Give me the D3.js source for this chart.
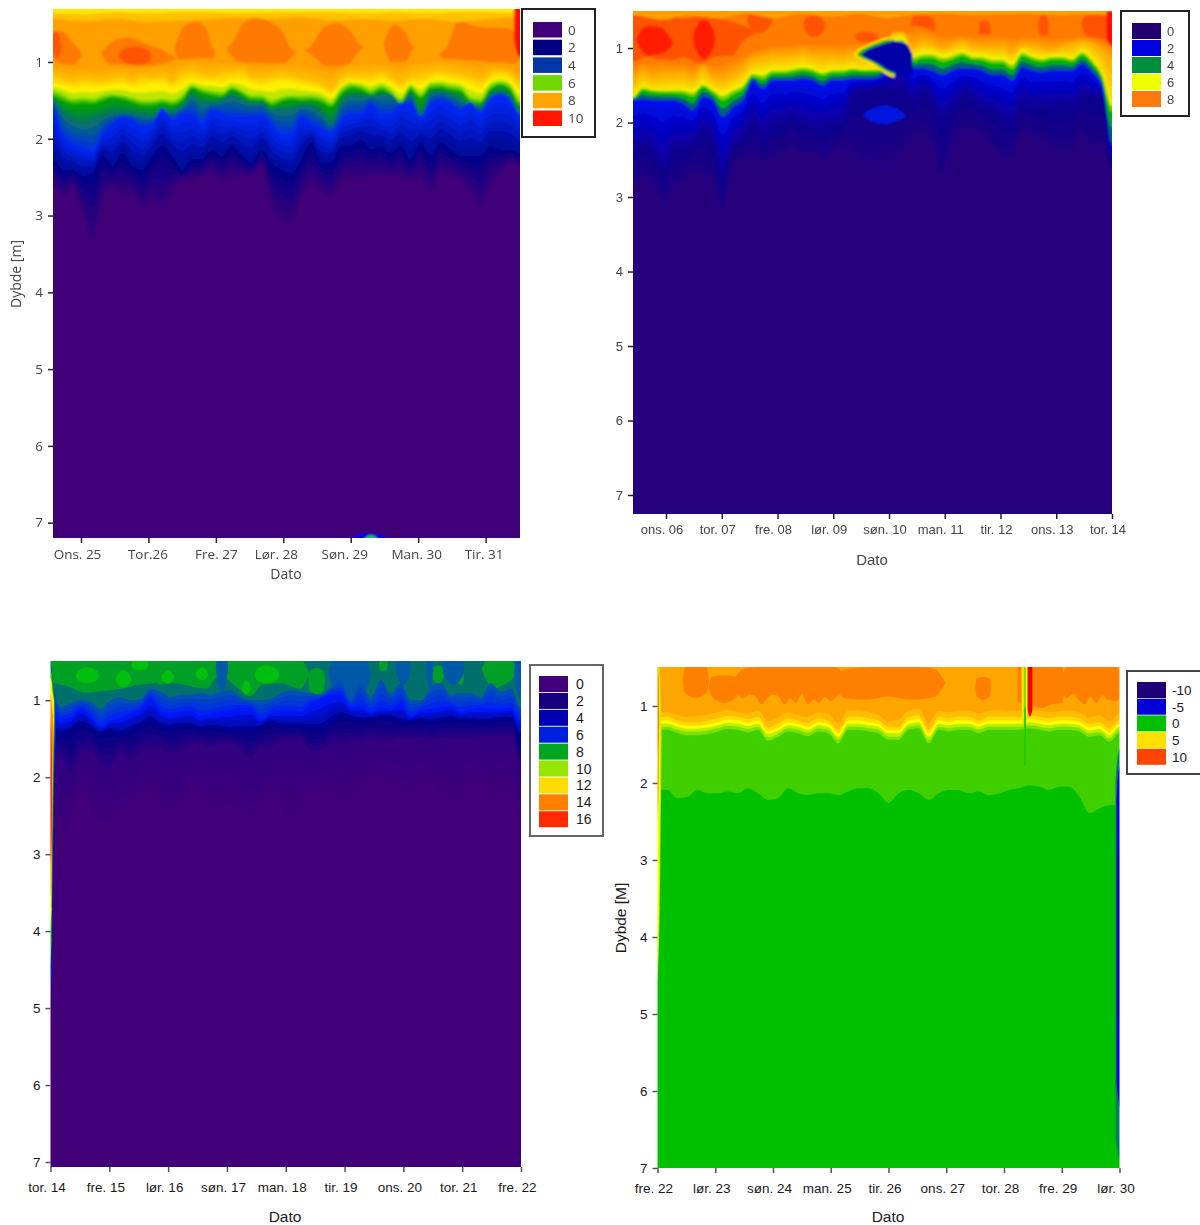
<!DOCTYPE html>
<html>
<head>
<meta charset="utf-8">
<script src="https://cdn.jsdelivr.net/npm/d3@7"></script>
<style>
  html, body { margin: 0; padding: 0; background: #fff; }
  svg { display: block; }
</style>
</head>
<body>
<svg id="chart" width="1200" height="1225"></svg>
<script>
// ---- panel 1: 25-31 (isoline depths in metres, left to right)
var aTicks = ["Ons. 25", "Tor.26", "Fre. 27", "Lør. 28", "Søn. 29", "Man. 30", "Tir. 31"];
var aLegend = ["0", "2", "4", "6", "8", "10"];
var aSurfYellow = [.37,.38,.36,.37,.36,.36,.37,.36,.36,.36,.37,.36,.37,.36,.36,.37];
var aSurfAmber = [.44,.47,.44,.48,.46,.44,.42,.44,.42,.46,.44,.46,.44,.48,.44,.42];
var aSoft = [1.02,1.05,1.03,1.05,.97,.95,1.0,1.02,1.0,1.06,.98,1.0,.95,.97,1.0,1.1];
var aAmber = [1.17,1.20,1.24,1.20,1.22,1.23,1.20,1.19,1.24,1.18,1.20,1.17,1.25,1.12,1.10,1.15,1.17,1.12,1.12,1.10,1.18,1.20,1.17,1.15,1.17,1.20,1.23,1.27,1.34,1.20,1.14,1.16,1.15,1.13,1.18,1.26,1.17,1.15,1.12,1.10,1.12,1.15,1.18,1.22,1.14,1.10,1.13,1.25];
var aYellow = [1.28,1.31,1.34,1.33,1.33,1.33,1.31,1.29,1.33,1.30,1.28,1.28,1.33,1.28,1.235,1.255,1.255,1.28,1.235,1.235,1.28,1.31,1.28,1.255,1.27,1.30,1.33,1.365,1.43,1.31,1.255,1.255,1.28,1.235,1.28,1.365,1.28,1.30,1.235,1.21,1.235,1.255,1.28,1.345,1.235,1.20,1.235,1.365];
var aLime = [1.37,1.41,1.475,1.46,1.475,1.43,1.41,1.43,1.46,1.495,1.495,1.475,1.495,1.43,1.30,1.345,1.365,1.385,1.315,1.365,1.43,1.43,1.495,1.45,1.43,1.43,1.43,1.45,1.52,1.345,1.28,1.30,1.355,1.30,1.365,1.475,1.30,1.41,1.28,1.27,1.30,1.32,1.45,1.475,1.30,1.255,1.30,1.495];
var aGreen = [1.45,1.50,1.54,1.53,1.54,1.50,1.46,1.48,1.52,1.56,1.56,1.53,1.56,1.50,1.34,1.40,1.43,1.45,1.36,1.42,1.49,1.49,1.56,1.51,1.48,1.50,1.49,1.52,1.58,1.42,1.34,1.36,1.42,1.36,1.42,1.53,1.36,1.47,1.34,1.33,1.36,1.38,1.51,1.54,1.36,1.30,1.36,1.56];
var aTeal = [1.50,1.67,1.755,1.80,1.755,1.71,1.67,1.67,1.67,1.69,1.71,1.67,1.65,1.58,1.45,1.54,1.54,1.50,1.45,1.50,1.54,1.54,1.625,1.625,1.625,1.58,1.58,1.67,1.80,1.54,1.45,1.45,1.45,1.43,1.43,1.54,1.43,1.69,1.41,1.39,1.43,1.495,1.58,1.58,1.43,1.39,1.45,1.67];
var aBlue = [1.625,1.93,2.06,2.10,2.15,1.93,1.80,1.71,1.755,1.84,1.80,1.60,1.755,1.67,1.67,1.80,1.625,1.67,1.71,1.71,1.71,1.69,1.80,1.93,1.93,1.71,1.80,1.86,1.93,1.755,1.67,1.67,1.54,1.67,1.67,1.54,1.54,1.71,1.54,1.495,1.54,1.625,1.52,1.67,1.495,1.43,1.495,1.69];
var aNavy = [2.275,2.41,2.41,2.495,2.45,2.23,2.36,2.19,2.36,2.41,2.23,2.10,2.23,2.41,2.275,2.275,2.145,2.23,2.10,2.23,2.32,2.145,2.32,2.41,2.45,2.275,2.06,2.32,2.32,2.10,2.10,2.015,2.145,2.10,2.19,2.10,2.275,2.06,2.23,2.06,2.145,2.23,2.23,2.23,2.10,2.145,2.145,2.19];
var aPurple = [2.62,2.75,2.62,2.97,3.32,2.80,2.62,2.75,2.71,2.93,2.80,2.93,2.71,2.54,2.54,2.49,2.45,2.54,2.49,2.49,2.49,2.36,2.88,3.06,3.10,2.75,2.62,2.67,2.75,2.58,2.49,2.54,2.49,2.49,2.49,2.49,2.54,2.49,2.71,2.45,2.49,2.54,2.71,2.88,2.62,2.45,2.32,2.36];
var aWarmDay = [-.42,-.3,-.2,-.12,-.02,null,.4,.55,.7,.85,1.0,1.15,1.32,null,1.44,1.55,1.7,1.85,1.94,null,2.26,2.4,2.6,2.8,3.0,3.1,null,3.4,3.6,3.8,4.0,4.14,null,4.53,4.65,4.8,4.91,null,5.43,5.6,5.8,6.0,6.2,6.44];
var aWarmTop = [.62,.60,.65,.75,.85,null,.78,.70,.68,.72,.78,.82,.90,null,.68,.52,.48,.55,.78,null,.72,.5,.42,.48,.62,.8,null,.8,.55,.5,.6,.78,null,.65,.52,.6,.78,null,.8,.45,.52,.55,.55,.6];
var aWarmBot = [.95,1.02,1.05,1.05,.95,null,1.02,1.12,1.15,1.12,1.10,1.12,1.02,null,.95,1.02,1.10,1.08,.98,null,.95,1.08,1.12,1.12,1.05,.95,null,.9,1.05,1.2,1.0,.85,null,.9,1.05,1.05,.85,null,1.0,1.1,1.05,1.02,1.0,1.02];
var aHotDay = [-.42,-.36,-.3,null,.6,.8,1.0];
var aHotTop = [.62,.6,.72,null,.85,.8,.85];
var aHotBot = [.85,.95,.88,null,.98,1.05,1.0];
var aEdgeDay = [6.42,6.47,6.55];
var aEdgeTop = [.28,.28,.28];
var aEdgeBot = [.7,.9,.95];
var aBlobDay = [3.99,4.2,4.4,4.58];
var aBlobTop = [7.21,7.14,7.15,7.21];
var aBlobInnerDay = [4.2,4.3,4.4];
var aBlobInnerTop = [7.21,7.165,7.21];
var aBlobBot = [7.25,7.25,7.25,7.25];
var aBlobInnerBot = [7.25,7.25,7.25];

// ---- panel 2: 06-14
var bTicks = ["ons. 06", "tor. 07", "fre. 08", "lør. 09", "søn. 10", "man. 11", "tir. 12", "ons. 13", "tor. 14"];
var bLegend = ["0", "2", "4", "6", "8"];
var bSurf = [.56,.62,.56,.60,.54,.60,.54,.58,.54,.60,.55,.54,.56,.55,.54,.56,.55,.56];
var bSoft = [1.2,1.15,1.2,1.2,1.05,.95,.92,.92,.92,.92,.7,.8,.82,.82,.82,.85,.85,.9];
var bAmber = [1.41,1.32,1.39,1.36,1.36,1.34,1.41,1.25,1.39,1.41,1.36,1.27,1.14,1.12,1.09,1.09,1.09,1.05,1.09,1.09,1.09,1.12,1.07,1.12,1.12,1.12,.80,.78,.98,.91,.94,1.00,.96,.91,.96,.98,.98,.98,1.05,.96,.96,1.00,1.03,.98,.94,.91,.94,1.03,1.16];
var bYellow = [1.63,1.51,1.54,1.55,1.54,1.54,1.56,1.47,1.54,1.59,1.53,1.47,1.32,1.32,1.27,1.27,1.25,1.23,1.25,1.30,1.27,1.27,1.25,1.27,1.27,1.25,.89,.86,1.09,1.05,1.05,1.09,1.07,1.03,1.09,1.09,1.12,1.12,1.18,1.03,1.09,1.12,1.09,1.09,1.12,1.03,1.14,1.32,1.70];
var bGreen = [1.67,1.56,1.59,1.60,1.60,1.61,1.65,1.52,1.60,1.70,1.62,1.55,1.38,1.42,1.34,1.34,1.32,1.30,1.32,1.37,1.33,1.33,1.30,1.31,1.31,1.28,.96,.92,1.18,1.13,1.13,1.18,1.15,1.10,1.15,1.16,1.20,1.20,1.28,1.10,1.15,1.18,1.15,1.15,1.18,1.09,1.20,1.40,1.85];
var bBlue = [1.70,1.68,1.70,1.70,1.70,1.74,1.83,1.65,1.70,1.92,1.79,1.70,1.43,1.54,1.43,1.43,1.43,1.41,1.43,1.50,1.43,1.43,1.41,1.41,1.41,1.36,1.04,.99,1.27,1.27,1.30,1.36,1.30,1.27,1.27,1.30,1.36,1.36,1.43,1.25,1.30,1.32,1.30,1.30,1.30,1.21,1.32,1.50,2.28];
var bNavy = [2.37,2.28,2.37,2.59,2.37,2.32,2.28,2.10,2.24,2.68,2.28,2.19,1.97,2.15,2.01,2.01,1.92,2.01,2.06,2.06,2.01,1.97,1.61,1.56,1.56,1.52,1.56,1.52,1.70,1.56,1.70,1.92,1.79,1.61,1.65,1.79,1.83,1.92,1.97,1.70,1.79,1.74,1.79,1.74,1.79,1.61,1.65,1.65,2.46];
var bIndigo = [2.86,2.82,2.86,3.13,2.91,2.86,2.68,2.77,2.86,3.26,2.59,2.55,2.50,2.59,2.55,2.46,2.37,2.46,2.46,2.59,2.46,2.37,2.50,2.64,2.68,2.68,2.64,2.50,2.24,2.24,2.37,2.82,2.41,2.19,2.15,2.19,2.37,2.55,2.55,2.19,2.24,2.32,2.41,2.46,2.46,2.24,2.41,2.37,2.68];
var bWarmDay = [-.59,-.3,0,.3,.6,.9,1.2,1.4,null,1.5,1.68,1.87,null,2.5,2.66,2.82,null,3.43,3.6,3.78,null,4.43,4.6,4.79,null,5.63,5.72,5.81,null,6.7,6.78,6.85,null,7.5,7.7,7.93];
var bWarmTop = [.56,.58,.55,.6,.58,.6,.65,.7,null,.52,.52,.55,null,.6,.56,.62,null,.8,.78,.82,null,.58,.56,.6,null,.66,.62,.68,null,.58,.55,.6,null,.58,.54,.56];
var bWarmBot = [1.18,1.12,1.2,1.12,1.2,1.12,1.1,.9,null,.72,.8,.7,null,.78,.85,.78,null,.9,.95,.92,null,.85,.92,.85,null,.85,.9,.85,null,.8,.86,.8,null,.8,.9,.86];
var bHotDay = [-.47,-.3,-.1,.07,null,.52,.68,.85];
var bHotTop = [.78,.7,.72,.85,null,.75,.62,.75];
var bHotBot = [1.0,1.1,1.08,1.0,null,1.0,1.15,1.0];
var bEdgeDay = [7.9,7.95,8.03];
var bEdgeTop = [.5,.5,.5];
var bEdgeBot = [.9,.95,1.0];
var bTipDay = [3.36,3.48,3.6,3.72,3.84,3.96,4.1];
var bTipTop = [1.09,1.0,.96,.92,.89,.86,.86];
var bTipBot = [1.09,1.16,1.2,1.27,1.30,1.36,1.4];
var bRimDay = [3.42,3.5,3.6,3.72,3.84,3.96,4.1];
var bRimTop = [1.09,1.03,.99,.95,.92,.89,.89];
var bRimBot = [1.09,1.13,1.16,1.2,1.26,1.32,1.36];
var bBumpDay = [3.5,3.6,3.72,3.84,3.96,4.1,4.3,4.42];
var bBumpTop = [1.09,1.03,.99,.96,.93,.91,.94,1.09];
var bBumpBot = [1.09,1.14,1.18,1.23,1.29,1.33,1.36,1.36];
var bPoolDay = [3.55,3.75,3.95,4.15,4.3];
var bPoolTop = [1.88,1.8,1.77,1.82,1.9];
var bPoolBot = [1.92,2.0,2.02,1.97,1.92];

// ---- panel 3: 14-22
var cTicks = ["tor. 14", "fre. 15", "lør. 16", "søn. 17", "man. 18", "tir. 19", "ons. 20", "tor. 21", "fre. 22"];
var cLegend = ["0", "2", "4", "6", "8", "10", "12", "14", "16"];
var cSteel = [.78,1.09,1.04,1.0,1.02,1.11,1.0,.96,1.0,.98,.85,.89,.96,.93,.93,.91,.93,.89,.87,.96,1.0,1.0,.98,.91,.87,.89,.91,.93,.83,.74,.98,.76,.96,.74,.91,.78,1.0,1.0,.83,.78,.93,.91,.91,.96,.78,.89,.85,1.09];
var cBlue = [1.09,1.24,1.22,1.11,1.2,1.33,1.26,1.22,1.17,1.11,.98,1.13,1.17,1.15,1.13,1.2,1.17,1.15,1.13,1.09,1.09,1.24,1.17,1.13,1.13,1.15,1.04,.98,.93,.93,1.09,1.07,1.15,1.09,1.11,1.04,1.2,1.13,1.11,1.09,1.07,1.15,1.11,1.09,1.11,1.11,1.09,1.26];
var cNavy = [1.35,1.43,1.39,1.30,1.35,1.43,1.39,1.43,1.37,1.33,1.26,1.33,1.35,1.33,1.33,1.37,1.35,1.37,1.39,1.39,1.39,1.35,1.28,1.33,1.33,1.33,1.37,1.37,1.28,1.2,1.22,1.26,1.24,1.22,1.22,1.28,1.28,1.26,1.28,1.26,1.24,1.26,1.26,1.28,1.26,1.24,1.24,1.48];
var cIndigo = [1.65,1.74,1.95,1.69,1.65,1.82,1.87,1.65,1.78,1.65,1.61,1.61,1.69,1.65,1.56,1.56,1.61,1.56,1.56,1.65,1.74,1.61,1.61,1.52,1.52,1.52,1.65,1.65,1.56,1.56,1.52,1.52,1.48,1.52,1.52,1.48,1.48,1.48,1.52,1.48,1.48,1.48,1.48,1.46,1.48,1.46,1.46,1.82];
var cDeep = [2.43,2.77,2.56,2.21,2.43,2.56,2.56,2.43,2.39,2.30,2.17,2.39,2.60,2.39,2.21,2.30,2.43,2.39,2.34,2.39,2.58,2.39,2.21,2.39,2.52,2.39,2.26,2.26,2.21,2.30,2.26,2.17,2.08,2.04,2.13,2.21,2.26,2.17,2.08,2.21,2.26,2.26,2.13,2.08,2.26,2.21,2.13,2.60];
var cGreenDay = [.08,.3,.6,.9,1.2,1.5,1.75,null,1.85,2.1,2.4,2.65,2.8,null,3.0,3.2,3.4,3.6,3.9,4.25,null,4.41,4.52,4.64,null,5.6,5.66,5.72,null,6.5,6.6,6.68,null,6.93,6.98,7.02,null,7.39,7.55,7.7,7.87];
var cGreenTop = [.47,.47,.47,.47,.47,.47,.47,null,.47,.47,.47,.47,.47,null,.47,.47,.47,.47,.47,.47,null,.62,.58,.62,null,.47,.47,.47,null,.58,.55,.58,null,.65,.62,.65,null,.5,.47,.47,.5];
var cGreenBot = [.78,.82,.90,.88,.85,.80,.78,null,.80,.78,.82,.85,.72,null,.72,.85,.95,.80,.78,.85,null,.88,.92,.88,null,.6,.62,.6,null,.72,.78,.72,null,.78,.80,.78,null,.7,.85,.8,.7];
var cBrightDay = [.47,.62,.79,null,1.13,1.24,1.35,null,1.4,1.52,1.64,null,1.91,2.0,2.08,null,2.49,2.58,2.66,null,3.27,3.33,3.39,null,3.51,3.68,3.85];
var cBrightTop = [.62,.57,.62,null,.68,.61,.68,null,.49,.47,.49,null,.66,.61,.66,null,.62,.57,.62,null,.8,.74,.8,null,.6,.55,.6];
var cBrightBot = [.74,.78,.74,null,.78,.83,.78,null,.58,.61,.58,null,.74,.78,.74,null,.70,.74,.70,null,.88,.92,.88,null,.74,.78,.74];
var cTopDay = [2.83,2.92,3.0,null,4.8,5.0,5.2,5.38,null,5.9,6.0,6.1,null,6.4,6.45,6.5,null,6.7,6.85,7.0,null,7.9,8.0,8.05];
var cTopTop = [.47,.47,.47,null,.47,.47,.47,.47,null,.47,.47,.47,null,.47,.47,.47,null,.47,.47,.47,null,.47,.47,.47];
var cTopBot = [.7,.9,.7,null,.85,1.0,1.0,.85,null,.7,.8,.7,null,.7,.85,.7,null,.7,.8,.7,null,.8,1.0,1.1];
var cStripBlueDay = [-.02,.02,.05,.09];
var cStripBlueTop = [.5,.6,.9,1.1];
var cStripBlueBot = [5.0,4.5,2.6,1.4];
var cStripGreenDay = [-.02,.02,.04,.07];
var cStripGreenTop = [.55,.65,.8,1.0];
var cStripGreenBot = [4.5,4.1,2.6,1.3];
var cStripYellowDay = [-.02,.02,.03,.06];
var cStripYellowTop = [.7,.75,.85,1.0];
var cStripYellowBot = [4.0,3.7,2.5,1.25];
var cStripOrangeDay = [-.02,.015,.025,.045];
var cStripOrangeTop = [.9,1,1.1,1.2];
var cStripOrangeBot = [3.6,3.4,2.6,1.5];
var cStripRedDay = [-.02,.012,.022];
var cStripRedTop = [1.15,1.4,1.8];
var cStripRedBot = [3.2,3.0,2.5];

// ---- panel 4: 22-30
var dTicks = ["fre. 22", "lør. 23", "søn. 24", "man. 25", "tir. 26", "ons. 27", "tor. 28", "fre. 29", "lør. 30"];
var dLegend = ["-10", "-5", "0", "5", "10"];
var dAmber = [1.08,1.08,1.12,1.14,1.13,1.11,1.08,1.05,1.08,1.10,1.06,1.20,1.15,1.08,1.12,1.14,1.08,1.10,1.22,1.06,1.06,1.08,1.12,1.20,1.18,1.06,1.04,1.22,1.06,1.08,1.06,1.06,1.10,1.06,1.05,1.06,1.06,1.05,1.06,1.08,1.07,1.06,1.08,1.15,1.12,1.20,1.10];
var dGold = [1.14,1.14,1.19,1.21,1.21,1.19,1.16,1.13,1.14,1.17,1.14,1.28,1.23,1.16,1.19,1.22,1.16,1.19,1.31,1.14,1.14,1.16,1.19,1.27,1.27,1.14,1.12,1.31,1.14,1.16,1.14,1.14,1.19,1.14,1.14,1.14,1.14,1.12,1.14,1.16,1.14,1.14,1.16,1.23,1.21,1.29,1.19];
var dYellow = [1.19,1.19,1.235,1.26,1.26,1.24,1.21,1.18,1.19,1.22,1.19,1.33,1.28,1.21,1.235,1.27,1.21,1.235,1.36,1.19,1.19,1.21,1.235,1.32,1.32,1.19,1.17,1.36,1.19,1.21,1.19,1.19,1.235,1.19,1.19,1.19,1.19,1.17,1.19,1.21,1.19,1.19,1.21,1.28,1.26,1.34,1.235];
var dChart = [1.23,1.23,1.27,1.295,1.295,1.28,1.25,1.22,1.23,1.26,1.23,1.365,1.32,1.25,1.27,1.31,1.25,1.27,1.40,1.23,1.23,1.25,1.27,1.355,1.355,1.23,1.21,1.40,1.23,1.25,1.23,1.23,1.27,1.23,1.23,1.23,1.23,1.21,1.23,1.25,1.23,1.23,1.25,1.32,1.30,1.38,1.27];
var dLime = [1.27,1.27,1.31,1.335,1.335,1.32,1.29,1.26,1.27,1.30,1.27,1.41,1.36,1.29,1.31,1.35,1.29,1.31,1.44,1.27,1.27,1.29,1.31,1.40,1.40,1.27,1.25,1.44,1.27,1.29,1.27,1.27,1.31,1.27,1.27,1.27,1.27,1.25,1.27,1.29,1.27,1.27,1.29,1.36,1.34,1.42,1.31];
var dGreen = [1.31,1.31,1.355,1.38,1.38,1.365,1.33,1.30,1.31,1.345,1.31,1.45,1.40,1.33,1.355,1.39,1.33,1.355,1.485,1.31,1.31,1.33,1.355,1.44,1.44,1.31,1.29,1.485,1.31,1.33,1.31,1.31,1.355,1.31,1.31,1.31,1.31,1.29,1.31,1.33,1.31,1.31,1.33,1.40,1.38,1.465,1.355];
var dDeep = [2.09,2.09,2.20,2.18,2.09,2.135,2.135,2.11,2.135,2.07,2.135,2.22,2.20,2.07,2.135,2.16,2.135,2.135,2.16,2.11,2.07,2.07,2.135,2.26,2.135,2.09,2.135,2.22,2.135,2.09,2.09,2.135,2.11,2.16,2.135,2.09,2.07,2.03,2.05,2.09,2.05,2.05,2.18,2.39,2.33,2.29,2.29];
var dWarmDay = [.48,.66,.85,null,.94,1.15,1.37,null,1.48,1.6,1.7,1.8,1.9,2.0,2.1,2.2,2.3,2.4,2.5,2.6,2.7,2.8,2.9,3.0,3.1,null,3.24,3.6,4.0,4.4,4.8,null,5.53,5.64,5.75,null,6.24,6.28,6.32,null,6.5,6.65,6.8,7.0,null,7.08,7.2,7.3,7.4,7.5,7.6,7.7,7.8,7.95];
var dWarmTop = [.5,.49,.5,null,.62,.6,.62,null,.52,.5,.5,.49,.49,.49,.49,.49,.49,.49,.49,.49,.49,.49,.49,.49,.5,null,.53,.5,.49,.49,.52,null,.64,.62,.64,null,.49,.49,.49,null,.49,.49,.49,.49,null,.5,.49,.49,.49,.49,.49,.49,.49,.49];
var dWarmBot = [.83,.90,.83,null,.88,.96,.88,null,.9,.85,.88,.98,.9,.85,.88,.98,.9,.96,.84,.98,.92,.96,.88,.94,.88,null,.9,.92,.88,.92,.88,null,.88,.92,.88,null,.94,.96,.94,null,.96,1.03,.98,.96,null,.9,.84,.92,.98,.88,.96,.86,.92,.94];
var dSpikeAmberDay = [6.30,6.36,6.42];
var dSpikeAmberTop = [.47,.47,.47];
var dSpikeAmberBot = [1.12,1.28,1.12];
var dSpikeYellowDay = [6.32,6.36,6.40];
var dSpikeYellowTop = [.47,.47,.47];
var dSpikeYellowBot = [1.15,1.3,1.15];
var dSpikeLimeDay = [6.34,6.36,6.38];
var dSpikeLimeTop = [.47,.47,.47];
var dSpikeLimeBot = [1.3,1.4,1.3];
var dSpikeGreenDay = [6.35,6.365,6.38];
var dSpikeGreenTop = [1.05,1.0,1.05];
var dSpikeGreenBot = [1.76,1.78,1.76];
var dSpikeDarkDay = [6.39,6.45,6.52];
var dSpikeDarkTop = [.47,.47,.47];
var dSpikeDarkBot = [1.0,1.1,1.0];
var dSpikeRedDay = [6.41,6.45,6.49];
var dSpikeRedTop = [.47,.47,.47];
var dSpikeRedBot = [1.05,1.14,1.05];
var dLeftLimeDay = [-.02,.03,.07];
var dLeftLimeTop = [.47,.47,1.2];
var dLeftLimeBot = [4.7,4.0,1.4];
var dLeftYellowDay = [-.02,.03,.05];
var dLeftYellowTop = [.47,.6,1.2];
var dLeftYellowBot = [4.2,3.6,1.35];
var dLeftAmberDay = [-.02,.02,.035];
var dLeftAmberTop = [.47,.6,1.1];
var dLeftAmberBot = [2.6,2.2,1.3];
var dLeftDarkDay = [-.02,.012,.025];
var dLeftDarkTop = [.47,.55,.9];
var dLeftDarkBot = [1.7,1.5,1.2];
var dRightTealDay = [7.93,7.97,8.04];
var dRightTealTop = [2.0,1.65,1.5];
var dRightTealBot = [6.6,6.8,7.0];
var dRightBlueDay = [7.95,7.98,8.04];
var dRightBlueTop = [2.2,1.85,1.75];
var dRightBlueBot = [5.9,6.1,6.3];
var dRightNavyDay = [7.97,8.04];
var dRightNavyTop = [3,2.3];
var dRightNavyBot = [5.0,5.5];

var svg = d3.select("#chart");
var defs = svg.append("defs");

function patch(color, day, top, bot) {
  return { color: color, day: day, top: top, bot: bot };
}

function drawPanel(cfg) {
  var x = d3.scaleLinear().domain(cfg.days).range(cfg.xRange);
  var y = d3.scaleLinear().domain(cfg.depths).range(cfg.yRange);
  var left = cfg.xRange[0], right = cfg.xRange[1], top = cfg.yRange[0], bottom = cfg.yRange[1];

  defs.append("clipPath").attr("id", "clip-" + cfg.id)
    .append("rect")
    .attr("x", left).attr("y", top)
    .attr("width", right - left).attr("height", bottom - top);
  if (cfg.blur) {
    defs.append("filter").attr("id", "blur-" + cfg.id)
      .attr("filterUnits", "userSpaceOnUse")
      .attr("x", left - 40).attr("y", top - 40)
      .attr("width", right - left + 80).attr("height", bottom - top + 80)
      .append("feGaussianBlur").attr("stdDeviation", cfg.blur);
  }

  var plot = svg.append("g").attr("clip-path", "url(#clip-" + cfg.id + ")")
    .append("g").attr("filter", cfg.blur ? "url(#blur-" + cfg.id + ")" : null);

  plot.append("rect")
    .attr("x", left - 30).attr("y", top - 30)
    .attr("width", right - left + 60).attr("height", bottom - top + 60)
    .attr("fill", cfg.base);

  // extend a level line past both edges so the blur does not fade at the border
  function levelPoints(depths) {
    var ix = d3.scaleLinear().domain([0, depths.length - 1]).range(cfg.days);
    var pts = depths.map(function(d, i) { return [ix(i), d]; });
    pts.unshift([cfg.days[0] - 1, depths[0]]);
    pts.push([cfg.days[1] + 1, depths[depths.length - 1]]);
    return pts;
  }

  var below = d3.area().curve(d3.curveMonotoneX)
    .x(function(d) { return x(d[0]); })
    .y0(function(d) { return y(d[1]); })
    .y1(bottom + 30);
  var above = d3.area().curve(d3.curveMonotoneX)
    .x(function(d) { return x(d[0]); })
    .y0(top - 30)
    .y1(function(d) { return y(d[1]); });
  var blob = d3.area().curve(d3.curveMonotoneX)
    .defined(function(d) { return d.day !== null; })
    .x(function(d) { return x(d.day); })
    .y0(function(d) { return y(d.top); })
    .y1(function(d) { return y(d.bot); });

  // close each run of a patch to a point so it has no square ends
  function taperRuns(rows) {
    var out = [], run = [];
    function flush() {
      if (run.length) {
        var a = run[0], b = run[run.length - 1], w = (b.day - a.day) * 0.12;
        out.push({ day: a.day - w, top: (a.top + a.bot) / 2, bot: (a.top + a.bot) / 2 });
        out = out.concat(run);
        out.push({ day: b.day + w, top: (b.top + b.bot) / 2, bot: (b.top + b.bot) / 2 });
        out.push({ day: null });
        run = [];
      }
    }
    rows.forEach(function(r) { if (r.day === null) flush(); else run.push(r); });
    flush();
    return out;
  }

  function drawPatches(list, taper) {
    (list || []).forEach(function(p) {
      var rows = p.day.map(function(d, i) { return { day: d, top: p.top[i], bot: p.bot[i] }; });
      plot.append("path").attr("d", blob(taper ? taperRuns(rows) : rows)).attr("fill", p.color);
    });
  }

  drawPatches(cfg.under, true);
  (cfg.surface || []).forEach(function(s) {
    plot.append("path").attr("d", above(levelPoints(s.depths))).attr("fill", s.color);
  });

  // depth of a level line at any day, whatever its number of samples
  function lineAt(depths) {
    var ix = d3.scaleLinear().domain([0, depths.length - 1]).range(cfg.days);
    return d3.scaleLinear().domain(depths.map(function(d, i) { return ix(i); })).range(depths);
  }

  cfg.levels.forEach(function(l, i) {
    var prev = cfg.levels[i - 1];
    if (prev && l.grad) {
      // contour steps shading from the line above down to this one
      var lineA = lineAt(prev.depths), lineB = lineAt(l.depths);
      var size = Math.max(prev.depths.length, l.depths.length);
      var ix = d3.scaleLinear().domain([0, size - 1]).range(cfg.days);
      var mix = d3.interpolateRgb(prev.color, l.color);
      for (var s = 1; s < l.grad; s++) {
        var t = s / l.grad;
        var step = d3.range(size).map(function(k) {
          return lineA(ix(k)) + (lineB(ix(k)) - lineA(ix(k))) * t;
        });
        plot.append("path").attr("d", below(levelPoints(step))).attr("fill", mix(t));
      }
    }
    plot.append("path").attr("d", below(levelPoints(l.depths))).attr("fill", l.color);
  });
  drawPatches(cfg.over, false);

  // axes
  var axes = svg.append("g").attr("filter", cfg.textBlur ? "url(#soft)" : null);
  var yAxis = d3.axisLeft(y).tickValues(d3.range(1, 8)).tickFormat(d3.format("d")).tickSize(5).tickPadding(5);
  var gy = axes.append("g").attr("transform", "translate(" + left + ",0)").call(yAxis);
  var xAxis = d3.axisBottom(x)
    .tickValues(d3.range(cfg.ticks.length))
    .tickFormat(function(d) { return cfg.ticks[d]; })
    .tickSize(5).tickPadding(cfg.xPad);
  var gx = axes.append("g").attr("transform", "translate(0," + bottom + ")").call(xAxis);

  [gx, gy].forEach(function(g) {
    g.select(".domain").remove();
    g.selectAll(".tick line").attr("stroke", cfg.tickColor).attr("stroke-width", 1.5);
    g.selectAll("text").attr("fill", cfg.textColor).attr("font-family", cfg.font).attr("font-size", cfg.fontSize);
  });
  gx.selectAll("text").attr("dx", function(d, i) { return cfg.labelShift ? cfg.labelShift[i] : cfg.labelDx; });

  axes.append("text")
    .attr("x", cfg.xTitle[0]).attr("y", cfg.xTitle[1])
    .attr("text-anchor", "middle")
    .attr("fill", cfg.textColor).attr("font-family", cfg.font).attr("font-size", cfg.titleSize)
    .text("Dato");
  if (cfg.yTitle) {
    axes.append("text")
      .attr("transform", "translate(" + cfg.yTitle[0] + "," + cfg.yTitle[1] + ") rotate(-90)")
      .attr("text-anchor", "middle")
      .attr("fill", cfg.textColor).attr("font-family", cfg.font).attr("font-size", cfg.titleSize)
      .text(cfg.yTitle[2]);
  }

  // legend
  var lg = cfg.legend;
  var box = svg.append("g").attr("filter", cfg.textBlur ? "url(#soft)" : null);
  box.append("rect")
    .attr("x", lg.box[0]).attr("y", lg.box[1])
    .attr("width", lg.box[2] - lg.box[0]).attr("height", lg.box[3] - lg.box[1])
    .attr("fill", "#fff").attr("stroke", lg.stroke).attr("stroke-width", 2);
  var ly = d3.scaleLinear().domain([0, 1]).range([lg.top, lg.top + lg.step]);
  box.selectAll("rect.swatch").data(lg.labels).enter().append("rect")
    .attr("class", "swatch")
    .attr("x", lg.sx).attr("y", function(d, i) { return ly(i); })
    .attr("width", 29).attr("height", lg.h)
    .attr("fill", function(d, i) { return lg.colors[i]; });
  box.selectAll("text").data(lg.labels).enter().append("text")
    .attr("x", lg.sx + lg.dx).attr("y", function(d, i) { return ly(i) + lg.h / 2; })
    .attr("dy", ".36em")
    .attr("fill", cfg.textColor).attr("font-family", cfg.font).attr("font-size", lg.fs)
    .text(function(d) { return d; });
}

defs.append("filter").attr("id", "soft").append("feGaussianBlur").attr("stdDeviation", 0.45);

drawPanel({
  id: "a", blur: 1.1, textBlur: true, base: "#ffa000",
  days: [-.415, 6.51], depths: [.31, 7.2], xRange: [53, 520], yRange: [9, 538],
  ticks: aTicks, xPad: 6, labelShift: [-4, -1, 0, -7.5, -6.5, -2, -2],
  tickColor: "#222", textColor: "#444", font: "'Open Sans'", fontSize: 13.5, titleSize: 14,
  xTitle: [286, 579], yTitle: [21, 274, "Dybde [m]"],
  under: [patch("#ff7a00", aWarmDay, aWarmTop, aWarmBot), patch("#ff5500", aHotDay, aHotTop, aHotBot)],
  surface: [{ color: "#ffc000", depths: aSurfAmber }, { color: "#ffe800", depths: aSurfYellow }],
  levels: [
    { color: "#ffa000", depths: aSoft },
    { color: "#ffc400", depths: aAmber, grad: 3 }, { color: "#fff000", depths: aYellow, grad: 3 },
    { color: "#80dc00", depths: aLime, grad: 2 }, { color: "#00a000", depths: aGreen, grad: 2 },
    { color: "#086c78", depths: aTeal, grad: 3 }, { color: "#0028f0", depths: aBlue, grad: 4 },
    { color: "#000088", depths: aNavy, grad: 6 }, { color: "#400078", depths: aPurple, grad: 6 }
  ],
  over: [patch("#ff0c00", aEdgeDay, aEdgeTop, aEdgeBot), patch("#0000e0", aBlobDay, aBlobTop, aBlobBot), patch("#30c040", aBlobInnerDay, aBlobInnerTop, aBlobInnerBot)],
  legend: { labels: aLegend, colors: ["#3f0078", "#000080", "#0039a8", "#70d800", "#ffa500", "#ff1400"],
    box: [522, 9, 595, 137], stroke: "#222", sx: 533, top: 22, step: 17.7, h: 15.5, dx: 35, fs: 13.5 }
});

drawPanel({
  id: "b", blur: 0.9, textBlur: true, base: "#ff7c00",
  days: [-.592, 8], depths: [.503, 7.255], xRange: [633, 1112], yRange: [11, 514],
  ticks: bTicks, xPad: 6, labelDx: -4.5,
  tickColor: "#222", textColor: "#444", font: "'Liberation Sans'", fontSize: 13, titleSize: 15,
  xTitle: [872, 565],
  under: [patch("#ff5200", bWarmDay, bWarmTop, bWarmBot), patch("#ff1c00", bHotDay, bHotTop, bHotBot)],
  surface: [{ color: "#ffa000", depths: bSurf }],
  levels: [
    { color: "#ff7c00", depths: bSoft },
    { color: "#ffb400", depths: bAmber, grad: 4 }, { color: "#f4f000", depths: bYellow, grad: 3 },
    { color: "#00b400", depths: bGreen, grad: 2 }, { color: "#0008e8", depths: bBlue, grad: 2 },
    { color: "#0c0090", depths: bNavy, grad: 6 }, { color: "#26007c", depths: bIndigo, grad: 6 }
  ],
  over: [patch("#ffe000", bTipDay, bTipTop, bTipBot), patch("#20b000", bRimDay, bRimTop, bRimBot),
    patch("#0000a8", bBumpDay, bBumpTop, bBumpBot), patch("#0018e0", bPoolDay, bPoolTop, bPoolBot),
    patch("#ff1000", bEdgeDay, bEdgeTop, bEdgeBot)],
  legend: { labels: bLegend, colors: ["#240070", "#0000e0", "#00903c", "#eeff00", "#ff7a10"],
    box: [1121, 11, 1189, 116], stroke: "#222", sx: 1132, top: 23, step: 17, h: 16, dx: 35, fs: 13 }
});

drawPanel({
  id: "c", blur: 0.7, textBlur: false, base: "#00706c",
  days: [0, 8], depths: [.49, 7.065], xRange: [50.5, 521], yRange: [661, 1167],
  ticks: cTicks, xPad: 10, labelDx: -4,
  tickColor: "#555", textColor: "#1a1a1a", font: "'Liberation Sans'", fontSize: 13.5, titleSize: 15.5,
  xTitle: [285, 1222],
  under: [patch("#00a028", cGreenDay, cGreenTop, cGreenBot), patch("#00c010", cBrightDay, cBrightTop, cBrightBot),
    patch("#0058a8", cTopDay, cTopTop, cTopBot)],
  levels: [
    { color: "#0050b4", depths: cSteel }, { color: "#0018ff", depths: cBlue, grad: 4 },
    { color: "#000088", depths: cNavy, grad: 6 }, { color: "#300080", depths: cIndigo, grad: 6 },
    { color: "#420078", depths: cDeep, grad: 4 }
  ],
  over: [patch("#0030e0", cStripBlueDay, cStripBlueTop, cStripBlueBot), patch("#30c000", cStripGreenDay, cStripGreenTop, cStripGreenBot),
    patch("#fff000", cStripYellowDay, cStripYellowTop, cStripYellowBot), patch("#ff9000", cStripOrangeDay, cStripOrangeTop, cStripOrangeBot),
    patch("#ff1000", cStripRedDay, cStripRedTop, cStripRedBot)],
  legend: { labels: cLegend, colors: ["#400078", "#150080", "#0000b0", "#0020e0", "#00a520", "#96e600", "#ffdc00", "#ff8000", "#ff2a00"],
    box: [530, 665, 603, 836], stroke: "#666", sx: 539, top: 676, step: 16.9, h: 16, dx: 37, fs: 14 }
});

drawPanel({
  id: "d", blur: 0.4, textBlur: false, base: "#ffa500",
  days: [0, 8], depths: [.494, 7], xRange: [657.5, 1119.5], yRange: [667, 1168],
  ticks: dTicks, xPad: 10, labelDx: -4,
  tickColor: "#555", textColor: "#1a1a1a", font: "'Liberation Sans'", fontSize: 13.5, titleSize: 15.5,
  xTitle: [888, 1222], yTitle: [626, 918, "Dybde [M]"],
  under: [patch("#ff8000", dWarmDay, dWarmTop, dWarmBot)],
  levels: [
    { color: "#ffbc00", depths: dAmber }, { color: "#ffdc00", depths: dGold },
    { color: "#ffff00", depths: dYellow }, { color: "#b8f000", depths: dChart },
    { color: "#80e000", depths: dLime }, { color: "#40d000", depths: dGreen },
    { color: "#00c000", depths: dDeep }
  ],
  over: [patch("#ff8000", dSpikeDarkDay, dSpikeDarkTop, dSpikeDarkBot), patch("#ffc000", dSpikeAmberDay, dSpikeAmberTop, dSpikeAmberBot),
    patch("#ffff00", dSpikeYellowDay, dSpikeYellowTop, dSpikeYellowBot), patch("#80e000", dSpikeLimeDay, dSpikeLimeTop, dSpikeLimeBot),
    patch("#20c800", dSpikeGreenDay, dSpikeGreenTop, dSpikeGreenBot), patch("#f00000", dSpikeRedDay, dSpikeRedTop, dSpikeRedBot),
    patch("#b8f000", dLeftLimeDay, dLeftLimeTop, dLeftLimeBot), patch("#ffff00", dLeftYellowDay, dLeftYellowTop, dLeftYellowBot),
    patch("#ffb000", dLeftAmberDay, dLeftAmberTop, dLeftAmberBot), patch("#ff8000", dLeftDarkDay, dLeftDarkTop, dLeftDarkBot),
    patch("#008060", dRightTealDay, dRightTealTop, dRightTealBot), patch("#0000e0", dRightBlueDay, dRightBlueTop, dRightBlueBot),
    patch("#000090", dRightNavyDay, dRightNavyTop, dRightNavyBot)],
  legend: { labels: dLegend, colors: ["#1e0078", "#0000d8", "#00c000", "#ffe000", "#ff4400"],
    box: [1127, 671, 1203, 774], stroke: "#444", sx: 1137, top: 682, step: 16.7, h: 16, dx: 35, fs: 13.5 }
});
</script>
</body>
</html>
